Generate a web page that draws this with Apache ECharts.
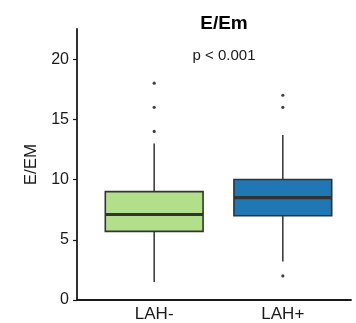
<!DOCTYPE html>
<html>
<head>
<meta charset="utf-8">
<script src="https://cdn.jsdelivr.net/npm/echarts@6/dist/echarts.min.js"></script>
<style>html,body{margin:0;padding:0;background:#fff;}#c{width:356px;height:323px;}</style>
</head>
<body>
<div id="c"></div>
<script>
// ---- data ----
var categories = ['LAH-', 'LAH+'];
var whiskerLow = [1.5, 3.2];
var q1 = [5.7, 7.0];
var median = [7.1, 8.5];
var q3 = [9.0, 10.0];
var whiskerHigh = [13.0, 13.7];
var outliersLAHneg = [14, 16, 18];
var outliersLAHpos = [2, 16, 17];
var yTicks = [0, 5, 10, 15, 20];
var titleText = 'E/Em';
var pText = 'p < 0.001';
var yName = 'E/EM';

var colors = ['#b2df8a', '#1f78b4'];
var BOX_W = 0.76;
var FONT = '"Liberation Sans", Arial, sans-serif';

var boxData = categories.map(function (c, i) {
  return [i + 1, whiskerLow[i], q1[i], median[i], q3[i], whiskerHigh[i]];
});
var outlierData = [];
outliersLAHneg.forEach(function (v) { outlierData.push([1, v]); });
outliersLAHpos.forEach(function (v) { outlierData.push([2, v]); });

var chart = echarts.init(document.getElementById('c'), null, {renderer: 'canvas'});
chart.setOption({
  animation: false,
  backgroundColor: '#ffffff',
  title: [
    {text: titleText, left: 219, top: 9, textAlign: 'center',
     textStyle: {fontFamily: FONT, fontSize: 19, fontWeight: 'bold', color: '#000'}},
    {text: pText, left: 219, top: 43, textAlign: 'center',
     textStyle: {fontFamily: FONT, fontSize: 15, fontWeight: 'normal', color: '#1a1a1a'}}
  ],
  grid: {left: 77, right: 5, top: 29, bottom: 22, containLabel: false},
  xAxis: {
    type: 'value', min: 0.4, max: 2.53,
    splitLine: {show: false},
    axisLine: {show: true, onZero: false, lineStyle: {color: '#1a1a1a', width: 1.8}},
    axisTick: {show: false},
    axisLabel: {
      customValues: [1, 2],
      formatter: function (v) { return categories[Math.round(v) - 1] || ''; },
      fontFamily: FONT, fontSize: 17, color: '#1a1a1a', margin: 6
    }
  },
  yAxis: {
    type: 'value', min: 0, max: 22.5,
    name: yName, nameLocation: 'middle', nameGap: 37,
    nameTextStyle: {fontFamily: FONT, fontSize: 17, color: '#1a1a1a'},
    splitLine: {show: false},
    axisLine: {show: true, lineStyle: {color: '#1a1a1a', width: 1.8}},
    axisTick: {show: true, customValues: yTicks, length: 4, lineStyle: {color: '#1a1a1a', width: 1.2}},
    axisLabel: {customValues: yTicks, fontFamily: FONT, fontSize: 16, color: '#1a1a1a', margin: 8}
  },
  series: [
    {
      type: 'custom',
      data: boxData,
      encode: {x: 0, y: [1, 2, 3, 4, 5]},
      renderItem: function (params, api) {
        var x = api.value(0);
        var i = params.dataIndex;
        var lo = api.coord([x, api.value(1)]);
        var b1 = api.coord([x, api.value(2)]);
        var md = api.coord([x, api.value(3)]);
        var b3 = api.coord([x, api.value(4)]);
        var hi = api.coord([x, api.value(5)]);
        var left = api.coord([x - BOX_W / 2, api.value(3)])[0];
        var right = api.coord([x + BOX_W / 2, api.value(3)])[0];
        var stroke = '#333333';
        return {
          type: 'group',
          children: [
            {type: 'line', shape: {x1: lo[0], y1: lo[1], x2: b1[0], y2: b1[1]}, style: {stroke: stroke, lineWidth: 1.5}},
            {type: 'line', shape: {x1: b3[0], y1: b3[1], x2: hi[0], y2: hi[1]}, style: {stroke: stroke, lineWidth: 1.5}},
            {type: 'rect', shape: {x: left, y: b3[1], width: right - left, height: b1[1] - b3[1]},
             style: {fill: colors[i], stroke: stroke, lineWidth: 1.6}},
            {type: 'line', shape: {x1: left, y1: md[1], x2: right, y2: md[1]}, style: {stroke: stroke, lineWidth: 3.2}}
          ]
        };
      }
    },
    {
      type: 'scatter',
      data: outlierData,
      symbol: 'circle',
      symbolSize: 3.2,
      itemStyle: {color: '#111'}
    }
  ]
});
</script>
</body>
</html>
